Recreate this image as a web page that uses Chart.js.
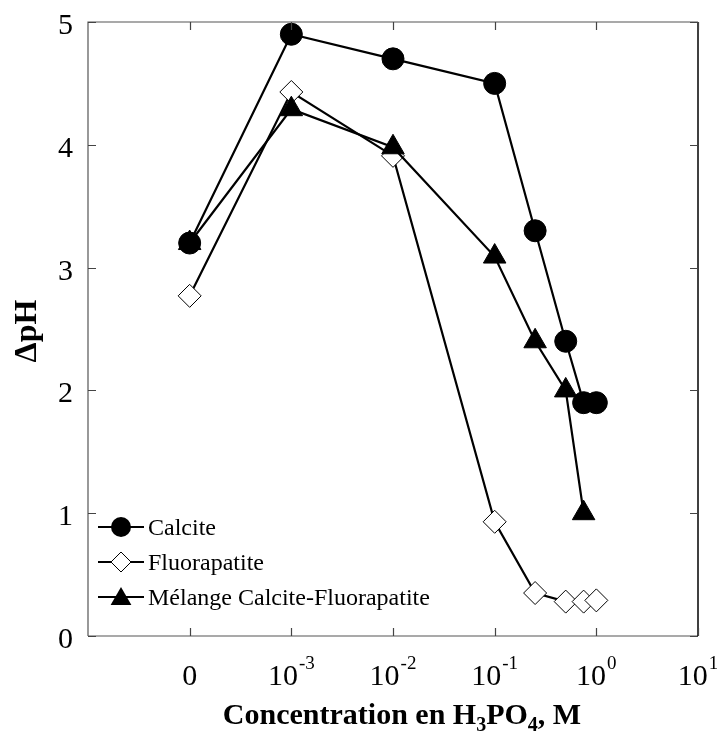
<!DOCTYPE html>
<html>
<head>
<meta charset="utf-8">
<script src="https://cdn.jsdelivr.net/npm/chart.js@4.4.0/dist/chart.umd.min.js"></script>
<style>
  html, body { margin: 0; padding: 0; background: #fff; }
  #wrap { width: 717px; height: 733px; }
</style>
</head>
<body>
<div id="wrap"><canvas id="phChart" width="717" height="733"></canvas></div>
<script>
// concentrations en H3PO4 (M) - 0 is put at the 10^-4 slot of the axis
const concentrations = [0, 0.001, 0.01, 0.1, 0.25, 0.5, 0.75, 1.0];
const calcite = [3.2, 4.9, 4.7, 4.5, 3.3, 2.4, 1.9, 1.9];
const fluorapatite = [2.77, 4.43, 3.91, 0.93, 0.35, 0.28, 0.28, 0.29];
const melange = [3.2, 4.29, 3.98, 3.09, 2.4, 2.0, 1.0, null];

const seriesNames = ['Calcite', 'Fluorapatite', 'Mélange Calcite-Fluorapatite'];

// x tick labels : base + exponent
const xTickValues = [0, 0.001, 0.01, 0.1, 1, 10];
const xTickBase = ['0', '10', '10', '10', '10', '10'];
const xTickExp = ['', '-3', '-2', '-1', '0', '1'];
const yTickValues = [0, 1, 2, 3, 4, 5];

const SERIF = '"Liberation Serif", "Times New Roman", serif';

function toPos(c) {
  return c === 0 ? -4 : Math.log10(c);
}

function makePoints(vals) {
  const pts = [];
  for (let i = 0; i < concentrations.length; i++) {
    if (vals[i] === null) continue;
    pts.push({ x: toPos(concentrations[i]), y: vals[i] });
  }
  return pts;
}

//マーカー描画（凡例用）
function drawMarker(ctx, style, x, y, r) {
  ctx.save();
  ctx.lineWidth = 1;
  ctx.strokeStyle = '#000';
  ctx.beginPath();
  if (style === 'circle') {
    ctx.arc(x, y, r, 0, Math.PI * 2);
    ctx.fillStyle = '#000';
    ctx.fill();
  } else if (style === 'rectRot') {
    ctx.moveTo(x, y - r);
    ctx.lineTo(x + r, y);
    ctx.lineTo(x, y + r);
    ctx.lineTo(x - r, y);
    ctx.closePath();
    ctx.fillStyle = '#fff';
    ctx.fill();
    ctx.stroke();
  } else {
    ctx.moveTo(x, y - r);
    ctx.lineTo(x + r * 0.866, y + r * 0.5);
    ctx.lineTo(x - r * 0.866, y + r * 0.5);
    ctx.closePath();
    ctx.fillStyle = '#000';
    ctx.fill();
  }
  ctx.restore();
}

const framePlugin = {
  id: 'framePlugin',
  afterDraw(chart) {
    const ctx = chart.ctx;
    const a = chart.chartArea;
    const xs = chart.scales.x;
    const ys = chart.scales.y;
    ctx.save();

    // frame
    ctx.lineWidth = 1.2;
    ctx.strokeStyle = '#555';
    ctx.beginPath();
    ctx.moveTo(a.left, a.bottom);
    ctx.lineTo(a.left, a.top);
    ctx.lineTo(a.right, a.top);
    ctx.moveTo(a.left, a.bottom);
    ctx.lineTo(a.right, a.bottom);
    ctx.stroke();
    ctx.strokeStyle = '#000';
    ctx.lineWidth = 1.5;
    ctx.beginPath();
    ctx.moveTo(a.right, a.top);
    ctx.lineTo(a.right, a.bottom);
    ctx.stroke();

    // inward ticks
    ctx.lineWidth = 1.2;
    ctx.strokeStyle = '#444';
    ctx.beginPath();
    xTickValues.forEach(v => {
      const px = Math.round(xs.getPixelForValue(toPos(v))) + 0.5;
      ctx.moveTo(px, a.bottom);
      ctx.lineTo(px, a.bottom - 8);
      ctx.moveTo(px, a.top);
      ctx.lineTo(px, a.top + 8);
    });
    yTickValues.forEach(v => {
      const py = Math.round(ys.getPixelForValue(v)) + 0.5;
      ctx.moveTo(a.left, py);
      ctx.lineTo(a.left + 8, py);
      ctx.moveTo(a.right, py);
      ctx.lineTo(a.right - 8, py);
    });
    ctx.stroke();

    // y tick labels
    ctx.fillStyle = '#000';
    ctx.font = '30px ' + SERIF;
    ctx.textAlign = 'right';
    ctx.textBaseline = 'alphabetic';
    yTickValues.forEach(v => {
      ctx.fillText(String(v), 73, ys.getPixelForValue(v) + 12);
    });

    // x tick labels with exponent
    ctx.textAlign = 'left';
    xTickValues.forEach((v, i) => {
      const px = xs.getPixelForValue(toPos(v));
      ctx.font = '30px ' + SERIF;
      const wb = ctx.measureText(xTickBase[i]).width;
      ctx.font = '19px ' + SERIF;
      const we = xTickExp[i] ? ctx.measureText(xTickExp[i]).width + 1 : 0;
      const x0 = px - (wb + we) / 2;
      ctx.font = '30px ' + SERIF;
      ctx.fillText(xTickBase[i], x0, 685);
      if (xTickExp[i]) {
        ctx.font = '19px ' + SERIF;
        ctx.fillText(xTickExp[i], x0 + wb + 1, 669);
      }
    });

    // x title  Concentration en H3PO4, M
    const parts = [
      ['Concentration en H', false],
      ['3', true],
      ['PO', false],
      ['4', true],
      [', M', false]
    ];
    let total = 0;
    parts.forEach(p => {
      ctx.font = 'bold ' + (p[1] ? 20 : 30) + 'px ' + SERIF;
      total += ctx.measureText(p[0]).width;
    });
    let cx = 402 - total / 2;
    parts.forEach(p => {
      ctx.font = 'bold ' + (p[1] ? 20 : 30) + 'px ' + SERIF;
      ctx.fillText(p[0], cx, p[1] ? 731 : 724);
      cx += ctx.measureText(p[0]).width;
    });

    // y title
    ctx.save();
    ctx.translate(36, 331);
    ctx.rotate(-Math.PI / 2);
    ctx.font = 'bold 32px ' + SERIF;
    ctx.textAlign = 'center';
    ctx.fillText('ΔpH', 0, 0);
    ctx.restore();

    // legend
    const styles = ['circle', 'rectRot', 'triangle'];
    const sizes = [10, 10, 12];
    const rows = [527, 562, 597];
    ctx.font = '24px ' + SERIF;
    ctx.textAlign = 'left';
    ctx.textBaseline = 'middle';
    for (let i = 0; i < seriesNames.length; i++) {
      ctx.strokeStyle = '#000';
      ctx.lineWidth = 2.2;
      ctx.beginPath();
      ctx.moveTo(98, rows[i]);
      ctx.lineTo(144, rows[i]);
      ctx.stroke();
      drawMarker(ctx, styles[i], 121, rows[i] + (i === 2 ? 2 : 0), sizes[i]);
      ctx.fillStyle = '#000';
      ctx.fillText(seriesNames[i], 148, rows[i] + 2);
    }
    ctx.restore();
  }
};

let ctx = document.getElementById('phChart').getContext('2d');
window.phChart = new Chart(ctx, {
  type: 'scatter',
  data: {
    datasets: [
      {
        label: seriesNames[0],
        data: makePoints(calcite),
        showLine: true,
        borderColor: '#000',
        borderWidth: 2.2,
        pointStyle: 'circle',
        pointRadius: 11,
        pointBackgroundColor: '#000',
        pointBorderColor: '#000',
        pointBorderWidth: 1,
        order: 0
      },
      {
        label: seriesNames[1],
        data: makePoints(fluorapatite),
        showLine: true,
        borderColor: '#000',
        borderWidth: 2.2,
        pointStyle: 'rectRot',
        pointRadius: 11.5,
        pointBackgroundColor: '#fff',
        pointBorderColor: '#000',
        pointBorderWidth: 1,
        order: 2
      },
      {
        label: seriesNames[2],
        data: makePoints(melange),
        showLine: true,
        borderColor: '#000',
        borderWidth: 2.2,
        pointStyle: 'triangle',
        pointRadius: 13,
        pointBackgroundColor: '#000',
        pointBorderColor: '#000',
        pointBorderWidth: 1,
        order: 1
      }
    ]
  },
  options: {
    animation: false,
    responsive: false,
    devicePixelRatio: 1,
    layout: { padding: { left: 0, top: 22, right: 19, bottom: 0 } },
    plugins: {
      legend: { display: false },
      tooltip: { enabled: false }
    },
    elements: { line: { tension: 0 } },
    scales: {
      x: {
        type: 'linear',
        min: -5,
        max: 1,
        grid: { display: false },
        border: { display: false },
        ticks: { display: false },
        afterFit: function (scale) { scale.height = 97; }
      },
      y: {
        min: 0,
        max: 5,
        grid: { display: false },
        border: { display: false },
        ticks: { display: false },
        afterFit: function (scale) { scale.width = 88; }
      }
    }
  },
  plugins: [framePlugin]
});
</script>
</body>
</html>
